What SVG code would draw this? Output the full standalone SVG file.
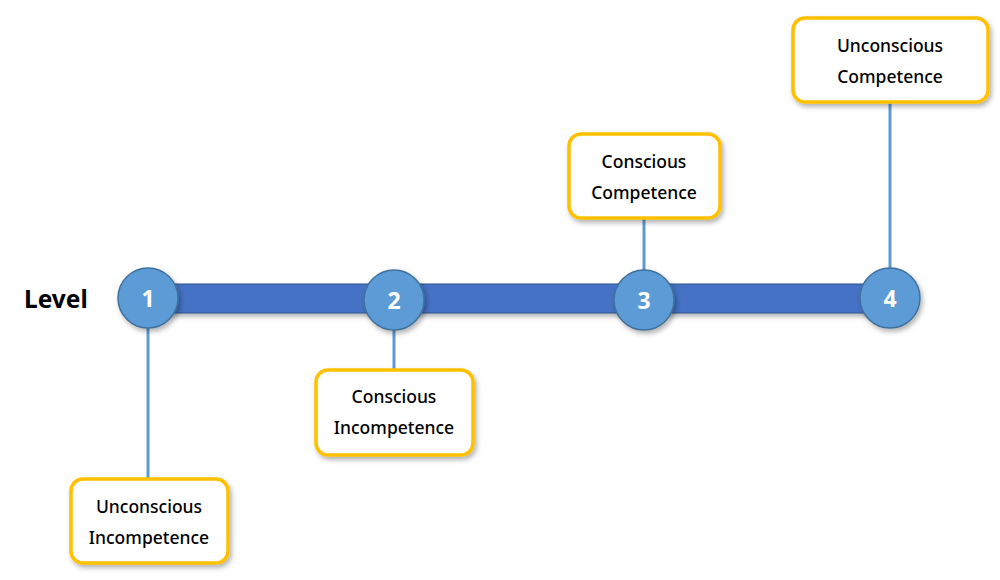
<svg xmlns="http://www.w3.org/2000/svg" width="1000" height="580" viewBox="0 0 1000 580">
<defs>
<filter id="sh" x="-20%" y="-20%" width="140%" height="150%">
<feDropShadow dx="2" dy="3" stdDeviation="2.5" flood-color="#000" flood-opacity="0.3"/>
</filter>
<style>
.box{fill:#fff;stroke:#FFC000;stroke-width:3.5;filter:url(#sh)}
.lbl{font-family:"Noto Sans","Liberation Sans",sans-serif;font-size:17.5px;font-weight:500;fill:#000;text-anchor:middle}
.circ{fill:#5B9BD5;stroke:#41719C;stroke-width:1.5;filter:url(#sh)}
.num{font-family:"Noto Sans","Liberation Sans",sans-serif;font-size:23px;font-weight:bold;fill:#fff;text-anchor:middle}
.conn{stroke:#5B9BD5;stroke-width:3;fill:none}
</style>
</defs>
<rect width="1000" height="580" fill="#fff"/>
<text x="24" y="308" font-family="Noto Sans, Liberation Sans, sans-serif" font-size="24.5" font-weight="bold" fill="#000">Level</text>
<rect id="bar" x="148" y="284" width="742" height="29" fill="#4472C4" stroke="#2F528F" stroke-width="1" filter="url(#sh)"/>
<g id="connectors">
<line class="conn" x1="148" y1="326" x2="148" y2="479"/>
<line class="conn" x1="394" y1="328" x2="394" y2="370"/>
<line class="conn" x1="644" y1="218" x2="644" y2="272"/>
<line class="conn" x1="890" y1="102" x2="890" y2="270"/>
</g>
<g id="c1"><circle class="circ" cx="148" cy="298" r="30"/><text class="num" x="148" y="307">1</text></g>
<g id="c2"><circle class="circ" cx="394" cy="300" r="30"/><text class="num" x="394" y="309">2</text></g>
<g id="c3"><circle class="circ" cx="644" cy="300" r="30"/><text class="num" x="644" y="309">3</text></g>
<g id="c4"><circle class="circ" cx="890" cy="298" r="30"/><text class="num" x="890" y="307">4</text></g>
<g id="b1"><rect class="box" x="71" y="479" width="157" height="84" rx="12"/><text class="lbl" x="149" y="513">Unconscious</text><text class="lbl" x="149" y="544">Incompetence</text></g>
<g id="b2"><rect class="box" x="316" y="370" width="157" height="85" rx="12"/><text class="lbl" x="394" y="403">Conscious</text><text class="lbl" x="394" y="434">Incompetence</text></g>
<g id="b3"><rect class="box" x="569" y="134" width="151" height="84" rx="12"/><text class="lbl" x="644" y="168">Conscious</text><text class="lbl" x="644" y="199">Competence</text></g>
<g id="b4"><rect class="box" x="793" y="18" width="195" height="84" rx="12"/><text class="lbl" x="890" y="52">Unconscious</text><text class="lbl" x="890" y="83">Competence</text></g>
</svg>
